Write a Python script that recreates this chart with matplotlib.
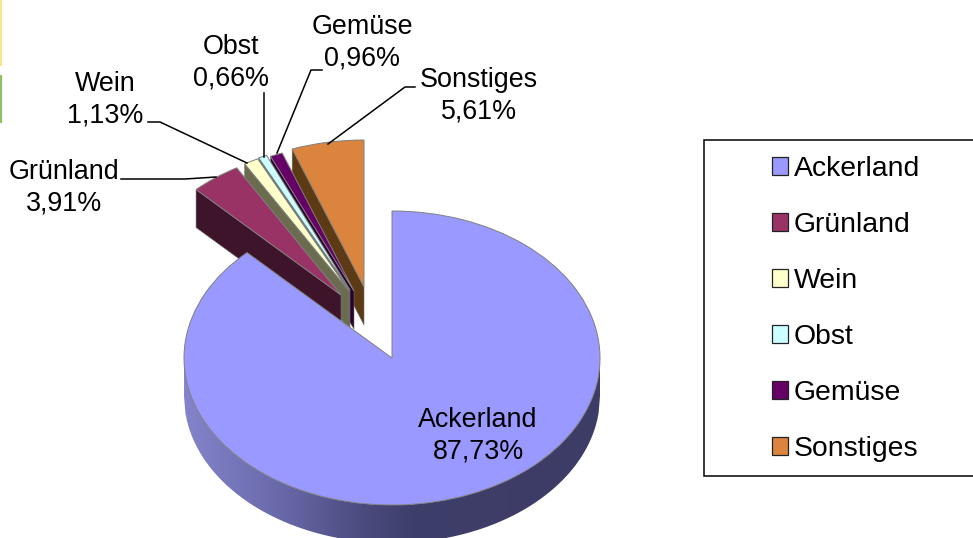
import numpy as np
import matplotlib
matplotlib.use("Agg")
import matplotlib.pyplot as plt
from matplotlib.colors import LinearSegmentedColormap
from matplotlib.patches import Patch, Polygon, Rectangle

plt.rcParams['font.family'] = ['Liberation Sans', 'DejaVu Sans']

names = ["Ackerland", "Grünland", "Wein", "Obst", "Gemüse", "Sonstiges"]
shares = [87.73, 3.91, 1.13, 0.66, 0.96, 5.61]
colors = ["#9999FF", "#993366", "#FFFFCC", "#CCFFFF", "#660066", "#DB843D"]
wall_colors = [None, "#3D1429", "#6B6B50", "#526E6E", "#2B002B", "#5C3A14"]

W, H = 973, 538
cx, cy = 392, 358      # pixel centre of the big slice
rx, ry = 208, 147      # ellipse radii
depth = 38 / ry
# pixel position of the tip of each slice
tips = [(392, 358), (341, 295), (349, 291), (350, 290), (354, 291), (364, 287)]

label_pos = [(478, 436), (64, 188), (105, 100), (231, 63), (362, 43), (479, 96)]
leaders = [
    None,
    [(121, 179), (185, 179), (216, 177)],
    [(148, 122), (160, 122), (247, 163)],
    [(264, 93), (264, 157)],
    [(322, 70), (311, 70), (277, 153)],
    [(415, 87), (405, 87), (328, 144)],
]

fig = plt.figure(figsize=(W / 100, H / 100), dpi=100)
ax = fig.add_axes([0, 0, 1, 1])
wedges, _ = ax.pie(shares, colors=colors, startangle=90, counterclock=False,
                   wedgeprops=dict(edgecolor="#808080", linewidth=0.7))
ax.set_aspect("auto")
xlim = ((0 - cx) / rx, (W - cx) / rx)
ylim = ((cy - H) / ry, cy / ry)

# side of the big slice, with the shading from left to right
xs = np.linspace(-1, 1, 300)
upper = -np.sqrt(1 - xs ** 2)
rim = Polygon(np.r_[np.c_[xs, upper], np.c_[xs[::-1], upper[::-1] - depth]],
              facecolor="none", edgecolor="none", zorder=1)
ax.add_patch(rim)
shade = LinearSegmentedColormap.from_list(
    "rim", [(0, "#8484CC"), (0.25, "#6666A6"), (0.42, "#4C4C80"),
            (0.55, "#3E3E6A"), (1, "#3C3C66")])
img = ax.imshow(np.linspace(0, 1, 256)[None, :], cmap=shade, aspect="auto",
                extent=(-1, 1, -1 - depth - 0.02, 0), zorder=1)
img.set_clip_path(rim)
wedges[0].set_zorder(20)

# pulled out slices, right one first: each top lies over the wall of the next
n = len(shares)
for i in range(1, n):
    c = ((tips[i][0] - cx) / rx, (cy - tips[i][1]) / ry)
    w = wedges[i]
    w.set_center(c)
    w.set_zorder(2 + 2 * (n - i) + 1)
    a = np.deg2rad(max(w.theta1, w.theta2))
    end = (c[0] + np.cos(a), c[1] + np.sin(a))
    ax.add_patch(Polygon([c, end, (end[0], end[1] - depth), (c[0], c[1] - depth)],
                         facecolor=wall_colors[i], edgecolor="#707070",
                         linewidth=0.4, zorder=2 + 2 * (n - i)))

ax.set_xlim(xlim)
ax.set_ylim(ylim)

# overlay in pixel coordinates for labels, leaders and the legend
over = fig.add_axes([0, 0, 1, 1], facecolor="none")
over.set_xlim(0, W)
over.set_ylim(H, 0)
over.axis("off")

for name, val, pos, line in zip(names, shares, label_pos, leaders):
    txt = f"{name}\n{val:.2f}%".replace(".", ",")
    over.text(pos[0], pos[1], txt, fontsize=19.4, ha="center", va="center",
              linespacing=1.28, color="black", zorder=30)
    if line:
        over.plot(*zip(*line), color="black", lw=1.1, zorder=30)

# legend box runs off the right edge of the picture
over.add_patch(Rectangle((703.5, 139.5), 290, 336, facecolor="white",
                         edgecolor="black", lw=1.1, clip_on=True))
handles = [Patch(facecolor=c, edgecolor="#222222", linewidth=0.9) for c in colors]
over.legend(handles, names, loc="center left", bbox_to_anchor=(772, 309),
            bbox_transform=over.transData, frameon=False, fontsize=20.4,
            borderpad=0, borderaxespad=0, labelspacing=1.06,
            handlelength=0.58, handleheight=0.58, handletextpad=0.2)

# bits of the neighbouring graphic at the left edge
over.add_patch(Rectangle((0, 0), 2, 66, facecolor="#FFE28A", edgecolor="none"))
over.add_patch(Rectangle((0, 75), 2, 48, facecolor="#8CC063", edgecolor="none"))

fig.savefig("out.png", dpi=100)
